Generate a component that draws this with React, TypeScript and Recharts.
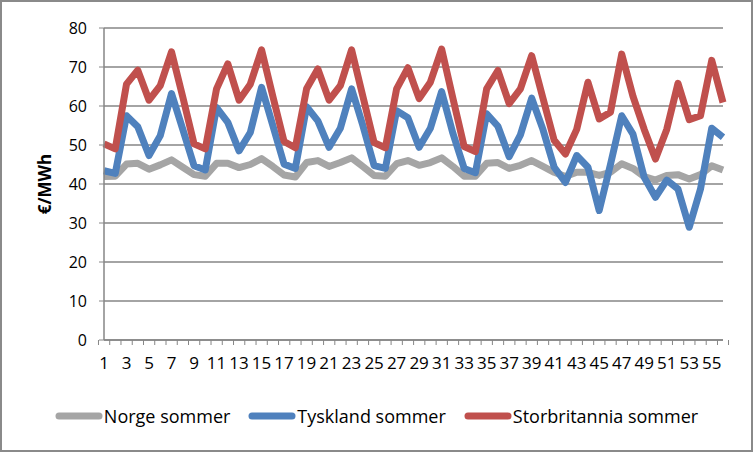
import { LineChart, Line, XAxis, YAxis, CartesianGrid, Legend } from 'recharts'

const perioder = [
  1, 2, 3, 4, 5, 6, 7, 8, 9, 10, 11, 12, 13, 14, 15, 16, 17, 18, 19, 20, 21, 22, 23, 24, 25, 26, 27, 28,
  29, 30, 31, 32, 33, 34, 35, 36, 37, 38, 39, 40, 41, 42, 43, 44, 45, 46, 47, 48, 49, 50, 51, 52, 53, 54, 55, 56,
]

const norge = [
  41.9, 42, 45.1, 45.3, 43.8, 44.9, 46.2, 44.3, 42.4, 42, 45.3, 45.3, 44.2, 45, 46.5, 44.5,
  42.3, 41.8, 45.5, 46, 44.5, 45.5, 46.7, 44.5, 42.2, 42, 45.2, 46, 44.8, 45.5, 46.7, 44.5,
  42, 42, 45.3, 45.5, 44, 44.8, 46, 44.5, 43, 41.9, 43, 43, 42.2, 43, 45.2, 44,
  41.9, 41, 42.2, 42.4, 41.3, 42.4, 44.7, 43.6,
]

const tyskland = [
  43.4, 42.7, 57.5, 54.7, 47.3, 52.4, 63.2, 54, 44.7, 43.6, 59.6, 55.8, 48.5, 53.2, 64.8, 55,
  45.1, 44, 59.8, 56.2, 49.4, 54.3, 64.4, 55, 44.7, 44, 58.8, 57, 49.4, 54.3, 63.7, 53,
  44, 42.9, 58, 54.8, 47, 52.6, 62, 54, 44.3, 40.4, 47.3, 44.3, 33.2, 45, 57.5, 52.8,
  41.7, 36.6, 41, 38.7, 28.9, 38.7, 54.3, 52,
]

const storbritannia = [
  50.3, 49, 65.6, 69.2, 61.5, 65.2, 73.9, 62.3, 50.3, 49, 64.4, 70.8, 61.5, 65.6, 74.4, 62.5,
  50.9, 49.3, 64.4, 69.5, 61.5, 65.2, 74.4, 62.5, 50.6, 49.3, 64.4, 69.8, 61.9, 66.1, 74.6, 62,
  49.6, 48.3, 64.4, 69.1, 60.6, 64.4, 72.9, 62, 51.2, 47.7, 54, 66.1, 56.7, 58.4, 73.3, 62.5,
  54, 46.4, 54, 65.8, 56.5, 57.5, 71.7, 60.9,
]

const yTicks = [0, 10, 20, 30, 40, 50, 60, 70, 80]

const serier = [
  { key: 'norge', navn: 'Norge sommer', farge: '#A5A5A5' },
  { key: 'tyskland', navn: 'Tyskland sommer', farge: '#4F81BD' },
  { key: 'storbritannia', navn: 'Storbritannia sommer', farge: '#C0504D' },
]

const data = perioder.map((p, i) => ({
  periode: p,
  norge: norge[i],
  tyskland: tyskland[i],
  storbritannia: storbritannia[i],
}))

const font = "'Open Sans', sans-serif"
const akseFarge = '#868686'
const tekstAvstand = 17

// label on every other category, tick marks between categories like Excel
function XTick(props: any) {
  const { x, y, payload, index, width, visibleTicksCount } = props
  const antall = visibleTicksCount || perioder.length
  const bredde = Number(width) > 0 ? Number(width) / antall : 11
  const aksY = y - tekstAvstand
  return (
    <g>
      <line x1={x - bredde / 2} x2={x - bredde / 2} y1={aksY} y2={aksY + 5} stroke={akseFarge} />
      {index === antall - 1 && (
        <line x1={x + bredde / 2} x2={x + bredde / 2} y1={aksY} y2={aksY + 5} stroke={akseFarge} />
      )}
      {index % 2 === 0 && (
        <text x={x} y={y} dy="0.71em" textAnchor="middle" fill="#000" fontSize={17} fontFamily={font}>
          {payload.value}
        </text>
      )}
    </g>
  )
}

function Forklaring() {
  return (
    <div style={{ display: 'flex', justifyContent: 'center', alignItems: 'center', height: 24 }}>
      {serier.map((s) => (
        <div key={s.key} style={{ display: 'flex', alignItems: 'center', margin: '0 9px' }}>
          <svg width={48} height={10}>
            <line x1={4} y1={5} x2={44} y2={5} stroke={s.farge} strokeWidth={7} strokeLinecap="round" />
          </svg>
          <span style={{ fontFamily: font, fontSize: 18, color: '#000', marginLeft: 1 }}>{s.navn}</span>
        </div>
      ))}
    </div>
  )
}

export default function App() {
  return (
    <div
      style={{
        position: 'absolute',
        left: 0,
        top: 0,
        width: 753,
        height: 452,
        border: '2px solid #8a8a8a',
        boxSizing: 'border-box',
        background: '#fff',
      }}
    >
      <div style={{ position: 'absolute', left: -2, top: -2 }}>
        <LineChart width={753} height={452} data={data} margin={{ top: 28, right: 30, left: 0, bottom: 24 }}>
          <CartesianGrid vertical={false} stroke={akseFarge} strokeWidth={1.5} />
          <XAxis
            dataKey="periode"
            interval={0}
            height={64}
            tickSize={0}
            tickLine={false}
            tickMargin={tekstAvstand}
            axisLine={{ stroke: akseFarge, strokeWidth: 1.5 }}
            tick={<XTick />}
          />
          <YAxis
            domain={[0, 80]}
            ticks={yTicks}
            width={104}
            tickSize={5}
            tickMargin={12}
            axisLine={{ stroke: akseFarge, strokeWidth: 1.5 }}
            tickLine={{ stroke: akseFarge }}
            tick={{ fill: '#000', fontSize: 16, fontFamily: font }}
            label={{
              value: '€/MWh',
              angle: -90,
              position: 'insideLeft',
              offset: 45,
              style: { fontFamily: font, fontSize: 17, fontWeight: 'bold', fill: '#000', textAnchor: 'middle' },
            }}
          />
          <Legend
            verticalAlign="bottom"
            wrapperStyle={{ left: 0, width: 753 }}
            content={() => <Forklaring />}
          />
          {serier.map((s) => (
            <Line
              key={s.key}
              type="linear"
              dataKey={s.key}
              name={s.navn}
              stroke={s.farge}
              strokeWidth={7}
              strokeLinejoin="round"
              dot={false}
              activeDot={false}
              isAnimationActive={false}
            />
          ))}
        </LineChart>
      </div>
    </div>
  )
}
